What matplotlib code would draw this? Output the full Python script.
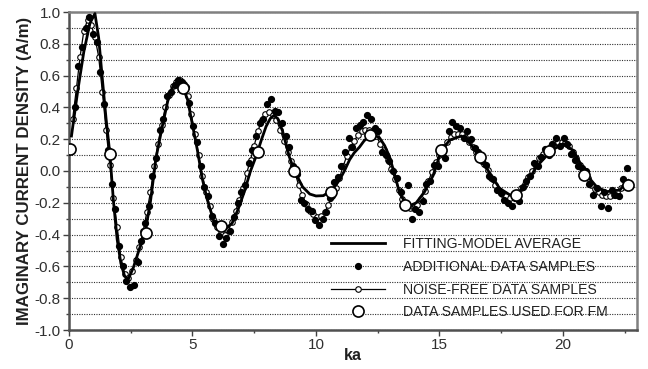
import numpy as np
import matplotlib
matplotlib.use("Agg")
import matplotlib.pyplot as plt

plt.rcParams['font.family'] = ['Liberation Sans', 'DejaVu Sans']

# ---------------- data ----------------
# noise-free data samples, ka = 0.15, 0.30, ... 22.5
NF_KA = np.round(0.15 * np.arange(1, 151), 3)
NF_VAL = [
    0.33, 0.52, 0.72, 0.88, 0.95, 0.92, 0.84, 0.72, 0.50, 0.26,
    0.04, -0.17, -0.35, -0.54, -0.645, -0.675, -0.63, -0.56, -0.48, -0.38,
    -0.26, -0.13, 0.03, 0.17, 0.29, 0.40, 0.48, 0.535, 0.56, 0.57,
    0.55, 0.47, 0.36, 0.23, 0.10, -0.03, -0.13, -0.22, -0.30, -0.355,
    -0.39, -0.40, -0.37, -0.32, -0.25, -0.18, -0.11, -0.01, 0.07, 0.16,
    0.25, 0.32, 0.36, 0.37, 0.35, 0.32, 0.26, 0.19, 0.12, 0.06,
    -0.01, -0.09, -0.15, -0.21, -0.25, -0.27, -0.29, -0.285, -0.26, -0.215,
    -0.16, -0.105, -0.045, 0.03, 0.095, 0.15, 0.19, 0.225, 0.25, 0.26,
    0.255, 0.24, 0.22, 0.17, 0.13, 0.07, 0.01, -0.05, -0.12, -0.175,
    -0.21, -0.23, -0.23, -0.215, -0.175, -0.125, -0.065, -0.005, 0.055, 0.10,
    0.15, 0.18, 0.215, 0.235, 0.235, 0.23, 0.215, 0.185, 0.15, 0.12,
    0.08, 0.045, 0.005, -0.045, -0.09, -0.12, -0.145, -0.16, -0.17, -0.16,
    -0.145, -0.11, -0.08, -0.04, 0.0, 0.04, 0.08, 0.11, 0.135, 0.16,
    0.175, 0.185, 0.18, 0.175, 0.155, 0.12, 0.08, 0.04, -0.01, -0.045,
    -0.09, -0.115, -0.135, -0.15, -0.16, -0.155, -0.15, -0.135, -0.11, -0.09,
]

# additional (noisy) data samples, ka = 0.225, 0.375, ... 22.575
ADD_KA = np.round(0.075 + 0.15 * np.arange(1, 151), 3)
ADD_VAL = [
    0.40, 0.66, 0.78, 0.90, 0.97, 0.86, 0.81, 0.62, 0.42, 0.13,
    -0.08, -0.24, -0.47, -0.60, -0.69, -0.73, -0.72, -0.57, -0.44, -0.33,
    -0.22, -0.03, 0.08, 0.26, 0.33, 0.47, 0.50, 0.54, 0.57, 0.56,
    0.53, 0.43, 0.28, 0.18, 0.03, -0.10, -0.16, -0.28, -0.33, -0.41,
    -0.46, -0.42, -0.38, -0.29, -0.20, -0.13, -0.09, 0.05, 0.13, 0.22,
    0.30, 0.33, 0.42, 0.45, 0.38, 0.37, 0.30, 0.22, 0.15, 0.03,
    -0.02, -0.18, -0.20, -0.24, -0.25, -0.31, -0.34, -0.30, -0.26, -0.17,
    -0.07, -0.04, 0.03, 0.12, 0.21, 0.15, 0.27, 0.29, 0.31, 0.35,
    0.33, 0.27, 0.25, 0.12, 0.10, 0.06, 0.00, -0.045, -0.13, -0.21,
    -0.09, -0.30, -0.24, -0.26, -0.19, -0.08, -0.06, 0.04, 0.03, 0.12,
    0.08, 0.25, 0.31, 0.28, 0.27, 0.21, 0.25, 0.20, 0.145, 0.12,
    0.06, 0.04, -0.03, -0.05, -0.12, -0.14, -0.18, -0.20, -0.22, -0.17,
    -0.19, -0.10, -0.06, -0.03, 0.05, 0.03, 0.09, 0.14, 0.10, 0.17,
    0.21, 0.16, 0.21, 0.17, 0.11, 0.07, 0.03, 0.02, 0.0, -0.08,
    -0.15, -0.11, -0.22, -0.13, -0.23, -0.12, -0.15, -0.16, -0.05, 0.02,
]

# fitting-model average (solid line)
FM_KA = [0.10, 0.35, 0.60, 0.85, 1.05, 1.20, 1.35, 1.50, 1.66, 1.80,
         1.95, 2.10, 2.25, 2.40, 2.60, 2.85, 3.08, 3.30, 3.52, 3.79,
         4.00, 4.20, 4.45, 4.60, 4.80, 5.00, 5.20, 5.40, 5.60, 5.85,
         6.10, 6.35, 6.60, 6.85, 7.10, 7.35, 7.57, 7.80, 7.98, 8.15,
         8.30, 8.45, 8.65, 8.92, 9.13, 9.46, 9.75, 10.00, 10.30, 10.55,
         10.75, 10.95, 11.15, 11.36, 11.55, 11.76, 11.95, 12.17, 12.37, 12.57,
         12.78, 12.98, 13.20, 13.39, 13.66, 13.85, 14.06, 14.40, 14.74, 15.08,
         15.42, 15.89, 16.23, 16.63, 17.04, 17.44, 17.85, 18.12, 18.53, 18.93,
         19.54, 20.00, 20.42, 20.96, 21.37, 21.77, 22.30, 22.65]
FM_VAL = [0.22, 0.50, 0.75, 0.93, 0.99, 0.84, 0.58, 0.33, 0.10, -0.19,
          -0.43, -0.58, -0.66, -0.68, -0.61, -0.49, -0.39, -0.19, 0.08, 0.29,
          0.44, 0.53, 0.56, 0.53, 0.45, 0.29, 0.13, -0.05, -0.18, -0.31,
          -0.37, -0.36, -0.33, -0.24, -0.13, 0.00, 0.09, 0.20, 0.28, 0.33,
          0.35, 0.33, 0.25, 0.09, 0.00, -0.10, -0.145, -0.157, -0.155, -0.13,
          -0.10, -0.057, 0.00, 0.07, 0.115, 0.15, 0.19, 0.22, 0.225, 0.21,
          0.16, 0.09, -0.03, -0.14, -0.21, -0.215, -0.20, -0.13, -0.03, 0.13,
          0.195, 0.22, 0.175, 0.09, -0.015, -0.11, -0.15, -0.15, -0.077, 0.027,
          0.13, 0.17, 0.13, -0.025, -0.10, -0.13, -0.12, -0.06]

# data samples used for the fitting model (large open circles)
USED_KA = [0.05, 1.66, 3.10, 4.62, 6.15, 7.64, 9.13, 10.60, 12.17, 13.62,
           15.08, 16.63, 18.10, 19.45, 20.85, 22.65]
USED_VAL = [0.14, 0.105, -0.39, 0.52, -0.345, 0.12, 0.0, -0.13, 0.225, -0.215,
            0.13, 0.09, -0.15, 0.125, -0.025, -0.085]

LABELS = ["FITTING-MODEL AVERAGE", "ADDITIONAL DATA SAMPLES",
          "NOISE-FREE DATA SAMPLES", "DATA SAMPLES USED FOR FM"]
X_TICKS = [0, 5, 10, 15, 20]
Y_TICKS = [-1.0, -0.8, -0.6, -0.4, -0.2, 0.0, 0.2, 0.4, 0.6, 0.8, 1.0]

# ---------------- figure ----------------
fig = plt.figure(figsize=(6.48, 3.69), dpi=100)
ax = fig.add_axes([69 / 648, 39 / 369, 568 / 648, 318 / 369])

l_fm, = ax.plot(FM_KA, FM_VAL, '-', color='black', lw=2.0, zorder=4, label=LABELS[0])
l_nf, = ax.plot(NF_KA, NF_VAL, '-', color='black', lw=0.9, marker='o', ms=4.0,
                mfc='white', mec='black', mew=0.8, zorder=2, label=LABELS[2])
l_add, = ax.plot(ADD_KA, ADD_VAL, 'o', color='black', ms=4.2, zorder=3, label=LABELS[1])
l_used, = ax.plot(USED_KA, USED_VAL, 'o', ms=8.0, mfc='white', mec='black',
                  mew=1.2, zorder=5, label=LABELS[3])

ax.set_xlim(0, 23)
ax.set_ylim(-1.0, 1.0)
ax.set_xticks(X_TICKS)
ax.set_xticks([2.5, 7.5, 12.5, 17.5, 22.5], minor=True)
ax.set_yticks(Y_TICKS)
ax.set_yticks(np.round(np.arange(-0.9, 1.0, 0.2), 1), minor=True)
ax.set_yticklabels([f"{v:.1f}" for v in Y_TICKS])
ax.tick_params(axis='both', which='major', direction='out', length=4, width=1,
               labelsize=11, colors='#404040', labelcolor='#303030', pad=2)
ax.tick_params(axis='both', which='minor', direction='out', length=2.5, width=1,
               colors='#404040')
ax.yaxis.grid(True, which='both', linestyle=(0, (1, 1.2)), color='#303030', lw=0.8)
ax.set_axisbelow(True)

for side in ['left', 'bottom']:
    ax.spines[side].set_color('#505050')
    ax.spines[side].set_linewidth(1.8)
for side in ['top', 'right']:
    ax.spines[side].set_color('#808080')
    ax.spines[side].set_linewidth(1.8)

ax.set_ylabel("IMAGINARY CURRENT DENSITY (A/m)", fontsize=12.2, fontweight='bold',
              color='#202020', labelpad=2)
ax.set_xlabel("ka", fontsize=11.5, fontweight='bold', color='#202020', labelpad=-3)

leg = ax.legend([l_fm, l_add, l_nf, l_used], LABELS, loc='center left',
                bbox_to_anchor=(0.462, 0.163), frameon=False, fontsize=10.1,
                handlelength=3.8, handletextpad=1.3, labelspacing=0.62,
                borderpad=0, borderaxespad=0, numpoints=1)
for t in leg.get_texts():
    t.set_color('#202020')

fig.savefig("out.png", dpi=100)
